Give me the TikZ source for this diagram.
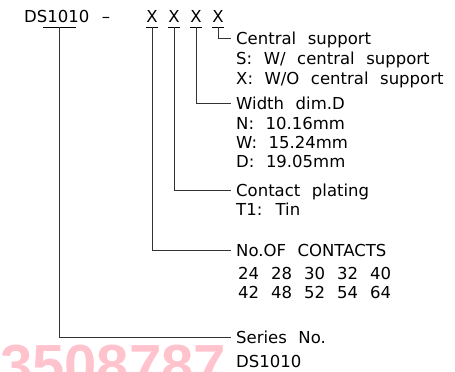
\documentclass[tikz,border=0pt]{standalone}
\usepackage{fontspec}
\setmainfont{DejaVu Sans}[WordSpace=2.2]
\newfontfamily\markfont{Liberation Sans}
\usepackage{xcolor}
\definecolor{wmpink}{RGB}{255,195,205}
\usetikzlibrary{positioning}
\newcommand\codefont{\fontsize{16.5}{19}\selectfont}

\begin{document}
\begin{tikzpicture}[x=1pt,y=-1pt,
  code/.style={font=\codefont,inner sep=0pt},
  lbl/.style={font=\codefont,text height=12pt,text depth=0pt,inner xsep=5pt,inner ysep=0pt,anchor=west},
  lead/.style={draw=black!80,line width=0.9pt},
  uline/.style={draw=black,line width=0.9pt}]
  \useasboundingbox (0,0) rectangle (455,372);
  % Watermark
  \begin{scope}
    \clip (0,0) rectangle (455,372);
    \node[font=\markfont\bfseries\fontsize{58}{60}\selectfont,text=wmpink,anchor=base west,inner sep=0pt] (mark) at (0,385) {3508787};
  \end{scope}
  % Part number
  \node[code,anchor=base west] (ds) at (24,23) {DS1010};
  \node[code,anchor=base] (dash) at (106,23) {--};
  \foreach \i/\x in {1/152,2/174,3/196,4/218}
    \node[code,anchor=base,inner ysep=4pt] (x\i) at (\x,23) {X};
  % Underlines
  \foreach \i in {1,...,4}
    \draw[uline] (x\i.south west) -- (x\i.south east);
  \coordinate (dsfoot) at (59.5,27);
  \draw[uline] ([xshift=-16.5pt]dsfoot) -- ([xshift=16.5pt]dsfoot);
  % Central support
  \node[lbl] (central) at (231,38) {Central support};
  \node[lbl] (withsup) at (231,58) {S: W/ central support};
  \node[lbl] (nosup) at (231,78) {X: W/O central support};
  % Width
  \node[lbl] (width) at (231,103.5) {Width dim.D};
  \node[lbl] (wn) at (231,123.5) {N: 10.16mm};
  \node[lbl] (ww) at (231,142.5) {W: 15.24mm};
  \node[lbl] (wd) at (231,161.5) {D: 19.05mm};
  % Plating
  \node[lbl] (plating) at (231,190) {Contact plating};
  \node[lbl] (tin) at (231,209) {T1: Tin};
  % Contacts
  \node[lbl] (contacts) at (231,250) {No.OF CONTACTS};
  \foreach \n [count=\k from 0] in {24,28,30,32,40}
    \node[lbl] (ca\k) at (233+33*\k,273) {\n};
  \foreach \n [count=\k from 0] in {42,48,52,54,64}
    \node[lbl] (cb\k) at (233+33*\k,292) {\n};
  % Series
  \node[lbl] (series) at (231,337) {Series No.};
  \node[lbl] (dsname) at (231,361) {DS1010};
  % Leads
  \draw[lead] (x4.south) |- (central.west);
  \draw[lead] (x3.south) |- (width.west);
  \draw[lead] (x2.south) |- (plating.west);
  \draw[lead] (x1.south) |- (contacts.west);
  \draw[lead] (dsfoot) |- (series.west);
\end{tikzpicture}
\end{document}
